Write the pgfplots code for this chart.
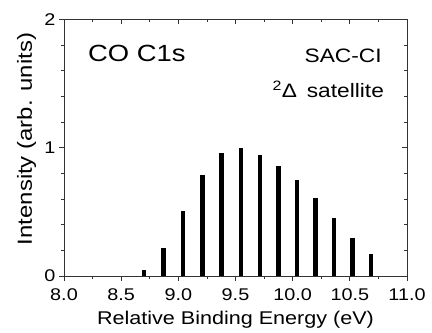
\documentclass[border=0pt]{standalone}
\usepackage{fontspec}
\setmainfont{Liberation Sans}[FakeStretch=1.17]
\usepackage{pgfplots}
\pgfplotsset{compat=1.18}
\begin{document}
\begin{tikzpicture}
\pgfplotsset{
  common/.style={
    at={(0,0)}, anchor=south west,
    scale only axis, width=343bp, height=256.5bp,
    xmin=8, xmax=11, ymin=0, ymax=2,
    xtick={8,8.5,9,9.5,10,10.5,11}, minor x tick num=1,
    ytick={0,1,2}, minor y tick num=4,
    major tick length=5bp, minor tick length=3bp,
    axis line style={black!80, line width=0.9pt},
    every tick/.style={black!80, line width=0.8pt},
  }
}
\begin{axis}[common,
    tick align=outside, xtick pos=left, ytick pos=left,
    /pgf/number format/assume math mode=true,
    xticklabel style={font=\fontsize{17}{19}\selectfont, yshift=-4bp, /pgf/number format/.cd, fixed, fixed zerofill, precision=1},
    yticklabel style={font=\fontsize{17}{19}\selectfont},
    xlabel={Relative Binding Energy (eV)},
    ylabel={Intensity (arb. units)},
    xlabel style={font=\fontsize{18.5}{20}\selectfont, at={(axis description cs:0.5,-0.191)}, anchor=base},
    ylabel style={font=\fontsize{20.5}{22}\selectfont, at={(axis description cs:-0.0933,0.534)}, anchor=base},
  ]
\addplot[ycomb, black, line width=4.6bp, mark=none] coordinates {
 (8.700,0.05) (8.869,0.22) (9.041,0.504) (9.210,0.784) (9.379,0.958)
 (9.548,1.0) (9.714,0.94) (9.878,0.855) (10.038,0.748) (10.198,0.608)
 (10.362,0.449) (10.522,0.294) (10.685,0.171)
};
\node[anchor=base west, font=\fontsize{23.5}{25}\selectfont, inner sep=0pt] at (axis cs:8.21,1.669) {CO C1s};
\node[anchor=base east, font=\fontsize{19.5}{21}\selectfont, inner sep=0pt] at (axis cs:10.78,1.661) {SAC-CI};
\node[anchor=base east, font=\fontsize{19.5}{21}\selectfont, inner sep=0pt] at (axis cs:10.80,1.39) {\textsuperscript{2}Δ\hspace{0.5em}satellite};
\end{axis}
\begin{axis}[common,
    tick align=inside, xtick pos=right, ytick pos=right,
    xticklabels={}, yticklabels={},
  ]
\end{axis}
\pgfresetboundingbox
\path (-64bp,-57bp) rectangle (368bp,276bp);
\end{tikzpicture}
\end{document}
